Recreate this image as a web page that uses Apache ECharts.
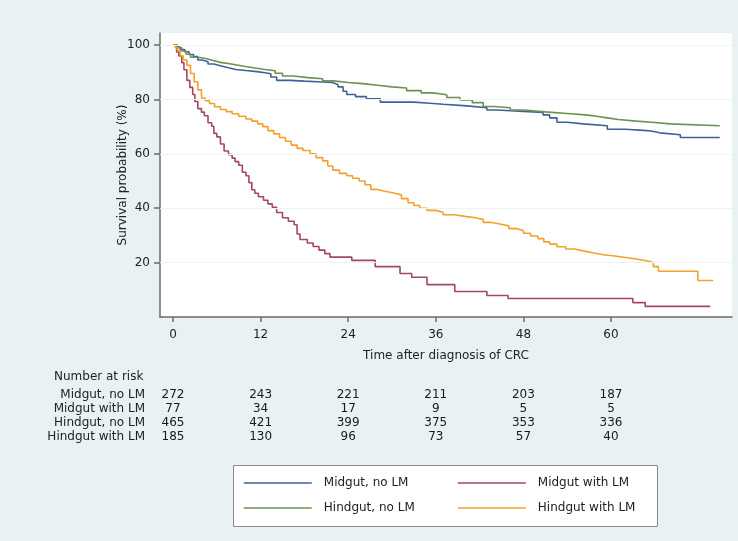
<!DOCTYPE html>
<html>
<head>
<meta charset="utf-8">
<script src="https://cdn.jsdelivr.net/npm/echarts@6/dist/echarts.min.js"></script>
<style>
html,body{margin:0;padding:0;background:#e9f1f3;}
#chart{width:738px;height:541px;}
</style>
</head>
<body>
<div id="chart"></div>
<script>
// ---- Data ----
const seriesNames = ['Midgut, no LM', 'Midgut with LM', 'Hindgut, no LM', 'Hindgut with LM'];
const seriesColors = ['#40609c', '#a5475f', '#6e9150', '#f3a12b'];

const xTicks = [0, 12, 24, 36, 48, 60];
const yTicks = [20, 40, 60, 80, 100];

// Kaplan-Meier step points [months, survival %]
const midgutNoLM = [
  [0,100],[0.5,99.2],[1.0,98.3],[1.6,97.5],[2.2,96.5],[2.8,95.7],[3.4,94.5],[4.0,93.8],
  [4.8,93.0],[5.6,92.3],[6.6,91.6],[7.6,91.0],[8.6,90.6],[10.0,90.2],[11.5,89.8],[12.6,89.4],
  [13.4,88.2],[14.2,87.0],[16.0,86.7],[18.0,86.4],[20.5,86.2],[21.8,85.5],[22.6,84.6],[23.3,83.0],
  [23.8,81.8],[25.0,81.0],[26.5,80.2],[28.4,79.0],[33.0,78.6],[35.2,78.2],[37.0,77.6],[40.3,76.9],
  [43.0,76.1],[44.5,75.8],[46.2,75.6],[48.0,75.2],[50.7,74.3],[51.6,73.2],[52.6,71.6],[54.0,71.0],
  [56.2,70.3],[59.5,69.0],[62.0,68.6],[64.4,68.4],[65.5,67.7],[66.7,67.0],[69.5,66.0],[74.9,66.0]
];
const midgutLM = [
  [0,100],[0.5,97.4],[0.8,96.0],[1.2,93.5],[1.5,90.9],[1.9,87.0],[2.3,84.4],[2.7,81.8],[3.0,79.2],
  [3.4,76.6],[3.9,75.3],[4.3,74.0],[4.8,71.4],[5.3,70.1],[5.6,67.5],[6.0,66.2],[6.5,63.6],[7.0,61.0],
  [7.6,59.7],[8.1,58.4],[8.5,57.1],[9.0,55.8],[9.5,53.2],[10.0,51.9],[10.4,49.4],[10.8,46.8],
  [11.2,45.5],[11.7,44.2],[12.4,42.9],[13.0,41.6],[13.6,40.3],[14.2,38.4],[15.0,36.5],[15.8,35.2],
  [16.6,33.9],[17.0,30.5],[17.4,28.5],[18.4,27.2],[19.2,25.9],[20.0,24.6],[20.8,23.3],[21.5,22.0],
  [24.5,20.8],[27.7,18.5],[31.1,16.0],[32.7,14.6],[34.8,11.9],[38.6,9.4],[43.0,7.9],[45.9,6.8],
  [63.0,5.3],[64.7,3.9],[73.6,3.9]
];
const hindgutNoLM = [
  [0,100],[0.6,99.0],[1.2,97.8],[1.8,96.6],[2.4,95.5],[3.4,95.0],[4.5,94.3],[5.5,93.6],[6.5,93.0],
  [8.0,92.3],[9.5,91.6],[11.0,91.0],[12.6,90.5],[14.0,89.6],[15.0,88.6],[16.5,88.0],[18.5,87.6],
  [20.5,86.8],[22.0,86.2],[24.0,85.8],[26.0,85.2],[28.0,84.6],[30.0,84.2],[32.0,83.2],[34.0,82.4],
  [35.6,81.7],[37.5,80.7],[39.3,79.8],[41.0,78.8],[42.5,77.4],[44.0,76.9],[46.2,76.1],[48.0,75.4],
  [51.0,74.8],[54.0,74.3],[56.5,73.8],[58.0,73.2],[59.5,72.6],[61.0,72.0],[63.5,71.5],[66.0,71.0],
  [68.1,70.3],[74.9,70.3]
];
const hindgutLM = [
  [0,100],[0.3,99],[0.6,98],[1.0,96],[1.4,94.5],[1.9,92.5],[2.4,89.5],[2.9,86.5],[3.4,83.5],
  [3.9,80.5],[4.4,79.5],[5.0,78.5],[5.7,77.3],[6.5,76.3],[7.3,75.5],[8.1,74.7],[9.0,73.8],
  [10.0,72.8],[10.8,72.0],[11.6,71.0],[12.3,70.0],[13.0,68.5],[13.8,67.3],[14.6,66.0],[15.4,64.6],
  [16.2,63.2],[17.0,62.0],[17.8,61.2],[18.8,60.0],[19.6,58.6],[20.5,57.4],[21.2,55.5],[21.9,54.0],
  [22.8,52.8],[23.8,51.9],[24.6,51.0],[25.5,50.0],[26.3,48.6],[27.1,46.9],[28.0,46.2],[29.0,45.5],
  [30.4,44.9],[31.3,43.5],[32.2,42.0],[33.0,41.0],[33.8,40.0],[34.8,39.2],[36.0,38.5],[37.0,37.6],
  [38.5,37.0],[40.0,36.5],[41.5,35.8],[42.5,34.8],[43.5,34.2],[44.8,33.5],[46.0,32.5],[47.0,31.8],
  [48.0,30.8],[49.0,29.8],[50.0,28.8],[50.8,27.6],[51.6,26.8],[52.6,25.8],[53.8,25.0],[55.0,24.3],
  [56.2,23.6],[57.5,22.9],[59.0,22.4],[60.5,21.9],[62.0,21.3],[63.5,20.6],[65.0,20.0],[65.8,18.5],
  [66.5,16.8],[71.9,13.4],[74.0,13.4]
];

// Number at risk
const riskTimes = [0, 12, 24, 36, 48, 60];
const riskMidgutNoLM = [272, 243, 221, 211, 203, 187];
const riskMidgutLM = [77, 34, 17, 9, 5, 5];
const riskHindgutNoLM = [465, 421, 399, 375, 353, 336];
const riskHindgutLM = [185, 130, 96, 73, 57, 40];

// ---- Chart ----
const FONT = 'DejaVu Sans';
const TXT = '#222222';
const AX = '#6b6b6b';
const X_MIN = -1.78, X_MAX = 76.58;

const curves = [midgutNoLM, midgutLM, hindgutNoLM, hindgutLM];
const riskRows = [riskMidgutNoLM, riskMidgutLM, riskHindgutNoLM, riskHindgutLM];

const riskData = [];
riskRows.forEach((row, r) => {
  row.forEach((n, i) => riskData.push([riskTimes[i], seriesNames[r], n]));
});

const chart = echarts.init(document.getElementById('chart'), null, {renderer: 'canvas'});

const kmSeries = curves.map((d, i) => ({
  name: seriesNames[i],
  type: 'line',
  step: 'end',
  data: d,
  xAxisIndex: 0, yAxisIndex: 0,
  symbol: 'none',
  z: 3,
  lineStyle: {color: seriesColors[i], width: 1.6},
  itemStyle: {color: seriesColors[i]}
}));

const legendBase = {
  orient: 'vertical',
  top: 477,
  padding: 0,
  itemWidth: 68, itemHeight: 14,
  itemGap: 13,
  itemStyle: {opacity: 0, borderWidth: 0},
  lineStyle: {width: 1.6, opacity: 1},
  textStyle: {fontFamily: FONT, fontSize: 12, color: TXT, padding: [0, 0, 0, 7]}
};

chart.setOption({
  animation: false,
  backgroundColor: '#e9f1f3',
  textStyle: {fontFamily: FONT},
  title: {
    text: 'Number at risk',
    left: 49, top: 366,
    textStyle: {fontFamily: FONT, fontSize: 12, fontWeight: 'normal', color: TXT}
  },
  graphic: [{
    type: 'rect', z: 0, silent: true,
    shape: {x: 233.5, y: 465.5, width: 424, height: 61},
    style: {fill: '#ffffff', stroke: '#8a8a8a', lineWidth: 1}
  }],
  legend: [
    Object.assign({}, legendBase, {left: 243, data: [seriesNames[0], seriesNames[2]]}),
    Object.assign({}, legendBase, {left: 457, data: [seriesNames[1], seriesNames[3]]})
  ],
  grid: [
    {left: 160, right: 6, top: 33, height: 284, show: true, backgroundColor: '#ffffff', borderWidth: 0},
    {left: 160, right: 6, top: 388, height: 56.4, show: false}
  ],
  xAxis: [
    {
      type: 'value', gridIndex: 0, min: X_MIN, max: X_MAX,
      name: 'Time after diagnosis of CRC', nameLocation: 'middle', nameGap: 33,
      nameMoveOverlap: false,
      nameTextStyle: {fontFamily: FONT, fontSize: 12, color: TXT},
      axisLine: {show: true, onZero: false, lineStyle: {color: AX, width: 1.5}},
      axisTick: {show: true, length: 5, customValues: xTicks, lineStyle: {color: AX, width: 1.5}},
      axisLabel: {customValues: xTicks, margin: 12, fontFamily: FONT, fontSize: 12, color: TXT},
      splitLine: {show: false}
    },
    {
      type: 'value', gridIndex: 1, min: X_MIN, max: X_MAX, show: false
    }
  ],
  yAxis: [
    {
      type: 'value', gridIndex: 0, min: 0, max: 104.4,
      name: 'Survival probability (%)', nameLocation: 'middle', nameGap: 31, nameRotate: 90,
      nameMoveOverlap: false,
      nameTextStyle: {fontFamily: FONT, fontSize: 12, color: TXT},
      axisLine: {show: true, onZero: false, lineStyle: {color: AX, width: 1.5}},
      axisTick: {show: true, length: 6, customValues: yTicks, lineStyle: {color: AX, width: 1.5}},
      axisLabel: {customValues: yTicks, margin: 10, fontFamily: FONT, fontSize: 12, color: TXT},
      splitLine: {show: false}
    },
    {
      type: 'category', gridIndex: 1, data: seriesNames, inverse: true,
      axisLine: {show: false}, axisTick: {show: false}, splitLine: {show: false},
      axisLabel: {interval: 0, margin: 15, fontFamily: FONT, fontSize: 12, color: TXT}
    }
  ],
  series: [
    {
      name: 'gridlines', type: 'line', data: [], xAxisIndex: 0, yAxisIndex: 0, z: 1,
      markLine: {
        silent: true, symbol: 'none', label: {show: false},
        lineStyle: {color: '#eef3f5', width: 1, type: 'solid'},
        data: yTicks.map(v => ({yAxis: v}))
      }
    },
    ...kmSeries,
    {
      name: 'risk', type: 'scatter', xAxisIndex: 1, yAxisIndex: 1,
      data: riskData, symbolSize: 0.1,
      itemStyle: {color: '#222222', opacity: 1},
      label: {
        show: true, position: 'inside',
        formatter: p => String(p.value[2]),
        fontFamily: FONT, fontSize: 12, color: '#1a1a1a', opacity: 1,
        textBorderWidth: 0
      },
      emphasis: {disabled: true},
      silent: true
    }
  ]
});
</script>
</body>
</html>
